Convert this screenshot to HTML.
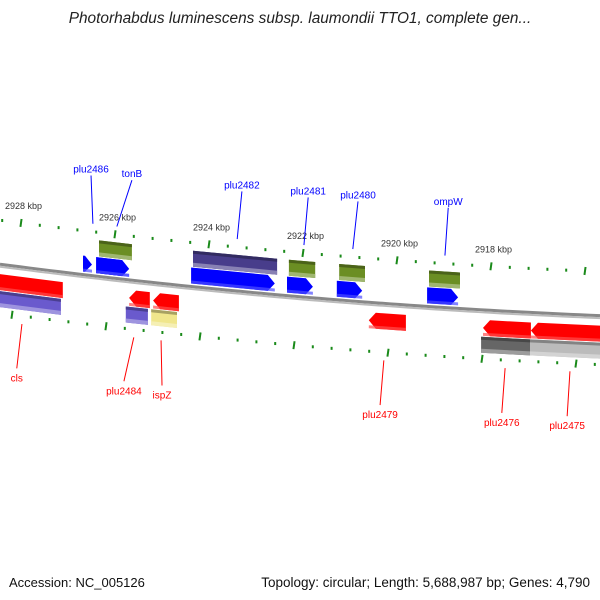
<!DOCTYPE html>
<html><head><meta charset="utf-8"><style>
body{margin:0;background:#fff;}
svg{display:block;font-family:"Liberation Sans","DejaVu Sans",sans-serif;}
</style></head><body>
<svg id="chart" width="600" height="600" viewBox="0 0 600 600">
<text x="300" y="23" text-anchor="middle" font-size="15.4" font-style="italic" fill="#222">Photorhabdus luminescens subsp. laumondii TTO1, complete gen...</text>
<g id="ticks"></g>
<g id="backbone"></g>
<g id="genes"></g>
<g id="labels"></g>
<text x="9" y="587" font-size="13" fill="#111">Accession: NC_005126</text>
<text x="590" y="587" text-anchor="end" font-size="13.5" fill="#111">Topology: circular; Length: 5,688,987 bp; Genes: 4,790</text>
</svg>
<script>
// data
const majorTicks = [2928, 2926, 2924, 2922, 2920, 2918, 2916];
const majorLabels = ["2928 kbp", "2926 kbp", "2924 kbp", "2922 kbp", "2920 kbp", "2918 kbp", ""];
const geneNames = ["small-orf", "plu2486", "tonB-box", "tonB", "plu2482-box", "plu2482", "plu2481-box", "plu2481", "plu2480-box", "plu2480", "ompW-box", "ompW",
  "cls", "cls-box", "plu2484", "plu2484-box", "ispZ", "ispZ-box", "plu2479", "plu2476", "plu2476-box", "plu2475", "plu2475-box"];
const geneStarts = [2926.68, 2926.40, 2926.34, 2926.40, 2924.34, 2924.38, 2922.30, 2922.34, 2921.23, 2921.28, 2919.32, 2919.36,
  2928.8, 2928.8, 2925.70, 2925.77, 2925.19, 2925.23, 2920.60, 2918.17, 2918.21, 2917.15, 2917.17];
const geneEnds = [2926.49, 2925.70, 2925.64, 2925.70, 2922.55, 2922.60, 2921.74, 2921.79, 2920.68, 2920.74, 2918.66, 2918.70,
  2927.11, 2927.15, 2925.26, 2925.30, 2924.64, 2924.68, 2919.81, 2917.15, 2917.17, 2915.60, 2915.60];
const geneRows = [1,1,0,1,0,1,0,1,0,1,0,1, 2,3,2,3,2,3,2,2,3,2,3];
const geneKinds = ["fwd","fwd","box","fwd","box","fwd","box","fwd","box","fwd","box","fwd",
  "rev","box","rev","box","rev","box","rev","rev","box","rev","box"];
const geneColors = ["#0000ff","#0000ff","#6b8e23","#0000ff","#483d8b","#0000ff","#6b8e23","#0000ff","#6b8e23","#0000ff","#6b8e23","#0000ff",
  "#ff0000","#6a5acd","#ff0000","#6a5acd","#ff0000","#f0e68c","#ff0000","#ff0000","#666666","#ff0000","#bbbbbb"];
const labelTexts = ["plu2486","tonB","plu2482","plu2481","plu2480","ompW","cls","plu2484","ispZ","plu2479","plu2476","plu2475"];
const labelTextKbp = [2926.51, 2925.64, 2923.30, 2921.89, 2920.83, 2918.91, 2928.09, 2925.81, 2925.0, 2920.36, 2917.77, 2916.38];
const labelAnchorKbp = [2926.47, 2925.96, 2923.40, 2921.98, 2920.94, 2918.98, 2927.98, 2925.60, 2925.02, 2920.28, 2917.70, 2916.32];
const labelStrand = [1,1,1,1,1,1,-1,-1,-1,-1,-1,-1];

const NS = "http://www.w3.org/2000/svg";
function xOf(kbp){ return 21 + (2928 - kbp) * 47; }
function U(x){ return 220.2 + 0.1311*x - 0.0000757*x*x; }
function mk(tag, attrs, parent){ const e=document.createElementNS(NS,tag); for(const k in attrs) e.setAttribute(k,attrs[k]); parent.appendChild(e); return e; }
const rowTop = [8, 25, 54, 71];
const rowH = [16, 16, 16, 16];

// ticks
const tg = document.getElementById('ticks');
for (let k = 2928.8; k >= 2915.4; k -= 0.4) {
  const kr = Math.round(k*10)/10;
  const isMajor = Math.abs(kr/2 - Math.round(kr/2)) < 0.01;
  [0, 93].forEach(function(off){
    const x = xOf(kr) - (off ? 9 : 0);
    if (x < -2 || x > 602) return;
    const y = U(x) + off;
    const t = mk('rect', {x: x-1, y: isMajor ? y-4 : y-1.5, width: 2, height: isMajor ? 8 : 3, fill: '#1a8a1a',
      transform: 'rotate(' + (isMajor ? 8 : 0) + ' ' + x + ' ' + y + ')'}, tg);
    
    
  });
}
majorTicks.forEach(function(k, i){
  if (!majorLabels[i]) return;
  const x = xOf(k);
  const t = mk('text', {x: x - 16, y: U(x) - 14, 'font-size': 9, fill: '#333'}, tg);
  t.textContent = majorLabels[i];
  
  
});

// backbone
const bg = document.getElementById('backbone');
let d1 = '', d2 = '';
for (let x = 0; x <= 600; x += 10) { d1 += (x ? 'L' : 'M') + x + ' ' + (U(x) + 44) + ' '; d2 += (x ? 'L' : 'M') + x + ' ' + (U(x) + 46.5) + ' '; }
const b1 = mk('path', {d: d1, stroke: '#888', 'stroke-width': 3, fill: 'none'}, bg);


const b2 = mk('path', {d: d2, stroke: '#bbb', 'stroke-width': 2, fill: 'none'}, bg);



// genes
const gg = document.getElementById('genes');
function shade(c, f){
  const n = parseInt(c.slice(1),16); let r=n>>16, g=(n>>8)&255, b=n&255;
  if (f < 0) { r*=1+f; g*=1+f; b*=1+f; } else { r+=(255-r)*f; g+=(255-g)*f; b+=(255-b)*f; }
  return 'rgb(' + Math.round(r) + ',' + Math.round(g) + ',' + Math.round(b) + ')';
}
function poly(x1, x2, top, h, kind){
  const a = 7, yt1 = U(x1)+top, yt2 = U(x2)+top;
  if (kind === 'fwd') {
    const xa = Math.max(x1, x2 - a);
    return [[x1,yt1],[xa,U(xa)+top],[x2,U(x2)+top+h/2],[xa,U(xa)+top+h],[x1,yt1+h]];
  } else if (kind === 'rev') {
    const xa = Math.min(x2, x1 + a);
    return [[x1,U(x1)+top+h/2],[xa,U(xa)+top],[x2,yt2],[x2,yt2+h],[xa,U(xa)+top+h]];
  }
  return [[x1,yt1],[x2,yt2],[x2,yt2+h],[x1,yt1+h]];
}
function pts(a){ return a.map(function(q){ return q[0].toFixed(1)+','+q[1].toFixed(1); }).join(' '); }
geneNames.forEach(function(name, i){
  const xa = xOf(geneStarts[i]), xb = xOf(geneEnds[i]);
  const x1 = Math.min(xa, xb), x2 = Math.max(xa, xb);
  const top = rowTop[geneRows[i]], h = rowH[geneRows[i]], c = geneColors[i], kind = geneKinds[i];
  const g = mk('g', {}, gg);
  
  
  mk('polygon', {points: pts(poly(x1, x2, top, h, kind)), fill: c}, g);
  if (kind === 'box') {
    mk('polygon', {points: pts(poly(x1, x2, top, 3, 'box')), fill: shade(c, -0.3)}, g);
    mk('polygon', {points: pts(poly(x1, x2, top + h - 4, 4, 'box')), fill: shade(c, 0.35)}, g);
  } else {
    mk('polygon', {points: pts(poly(x1, x2, top + h - 3, 3, 'box')), fill: shade(c, 0.3), opacity: 0.7}, g);
  }
});

// labels
const lg = document.getElementById('labels');
labelTexts.forEach(function(txt, i){
  const xt = xOf(labelTextKbp[i]), xa = xOf(labelAnchorKbp[i]);
  const up = labelStrand[i] > 0;
  const col = up ? '#0000ff' : '#ff0000';
  let lx1, ly1, lx2, ly2, ty;
  if (up) { lx1 = xt; ly1 = U(xt) - 56; lx2 = xa; ly2 = U(xa) - 8; ty = U(xt) - 59; }
  else { lx1 = xa; ly1 = U(xa) + 101; lx2 = xt; ly2 = U(xt) + 146; ty = U(xt) + 159; }
  const ln = mk('line', {x1: lx1, y1: ly1, x2: lx2, y2: ly2, stroke: col, 'stroke-width': 1}, lg);
  
  
  const t = mk('text', {x: xt, y: ty, 'text-anchor': 'middle', 'font-size': 10, fill: col}, lg);
  t.textContent = txt;
  
  
});
</script>
</body></html>
